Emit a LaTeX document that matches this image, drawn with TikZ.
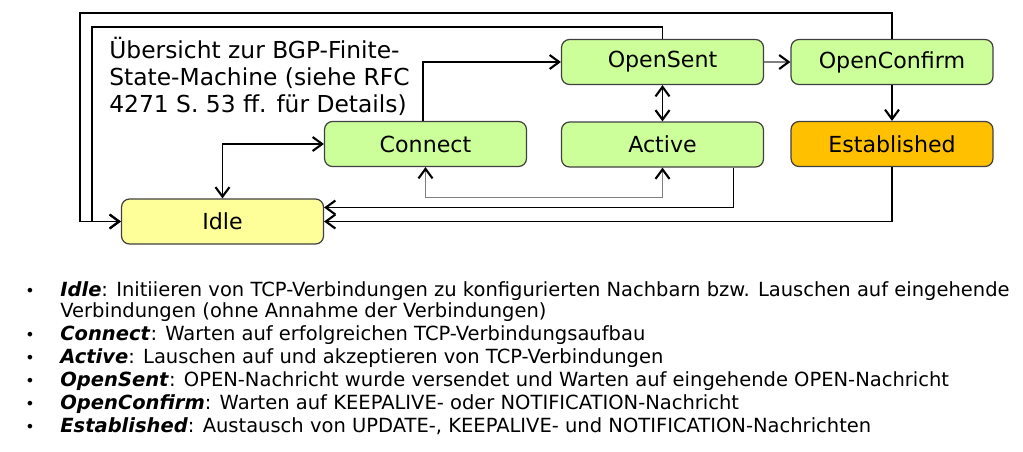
\documentclass[tikz,border=0pt]{standalone}
\usepackage{fontspec}
\setmainfont{DejaVu Sans}
\usetikzlibrary{arrows.meta,positioning}
\definecolor{stategreen}{HTML}{CCFF99}
\definecolor{stateyellow}{HTML}{FFFF99}
\definecolor{stateorange}{HTML}{FFC000}
\definecolor{stateedge}{HTML}{404040}
\definecolor{linegray}{HTML}{7F7F7F}

\begin{document}
\begin{tikzpicture}[x=0.02cm,y=-0.02cm,
  >={Straight Barb[length=1.9mm,width=2.8mm,line width=1.2pt,color=black]}]

    \tikzset{
      state/.style={
        draw=stateedge,
        line width=0.7pt,
        rounded corners=0.16cm,
        fill=stategreen,
        minimum width=4.04cm,
        minimum height=0.9cm,
        inner sep=0pt,
        font=\fontsize{12.6}{15}\selectfont,
      },
      conn/.style={line width=0.6pt},
      item/.style={anchor=base west, inner sep=0pt, font=\fontsize{11.1}{13}\selectfont},
      dot/.style={anchor=base, inner sep=0pt, font=\fontsize{9}{9}\selectfont},
    }
    \useasboundingbox (0,0) rectangle (1023,451);

    % states
    \node[state, fill=stateyellow] (idle) at (222.5,221.5) {Idle};
    \node[state] (connect) at (425.5,144) {Connect};
    \node[state] (active) at (662.5,144.5) {Active};
    \node[state] (opensent) at (662.5,62) {OpenSent};
    \node[state] (openconfirm) at (892,62) {OpenConfirm};
    \node[state, fill=stateorange] (established) at (892,144) {Established};

    \node[anchor=north west, inner sep=0pt, align=left, font=\fontsize{13.3}{15.4}\selectfont] (title) at (109,37)
      {Übersicht zur BGP-Finite-\\State-Machine (siehe RFC\\4271 S. 53 ff. für Details)};

    % transitions
    \coordinate (inner) at (92,27);
    \coordinate (outer) at (80,13);
    \draw[conn,->] (opensent.north) |- (inner) |- (idle.west);
    \draw[conn,->] (openconfirm.north) |- (outer) |- (idle.west);
    \draw[conn,->] (established.south) |- (idle.east);
    \draw[conn,->] ([xshift=-0.62cm]active.south east) |- ([yshift=0.28cm]idle.east);
    \draw[conn,<->] (idle.north) |- (connect.west);
    \draw[conn,->] ([xshift=-0.05cm]connect.north) |- (opensent.west);
    \draw[conn,<->,draw=linegray] (connect.south) -- ++(0,30) -| (active.south);
    \draw[conn,<->] (opensent.south) -- (active.north);
    \draw[conn,->,draw=linegray] (opensent.east) -- (openconfirm.west);
    \draw[conn,->] (openconfirm.south) -- (established.north);

    % legend
    \foreach \y/\n in {296/1,340/2,363/3,386/4,409/5,432/6}
      \node[dot] (b\n) at (30,\y) {•};
    \node[item] (t1) at (60,296) {\textbf{\textit{Idle}}: Initiieren von TCP-Verbindungen zu konfigurierten Nachbarn bzw. Lauschen auf eingehende};
    \node[item] (t1b) at (60,317) {Verbindungen (ohne Annahme der Verbindungen)};
    \node[item] (t2) at (60,340) {\textbf{\textit{Connect}}: Warten auf erfolgreichen TCP-Verbindungsaufbau};
    \node[item] (t3) at (60,363) {\textbf{\textit{Active}}: Lauschen auf und akzeptieren von TCP-Verbindungen};
    \node[item] (t4) at (60,386) {\textbf{\textit{OpenSent}}: OPEN-Nachricht wurde versendet und Warten auf eingehende OPEN-Nachricht};
    \node[item] (t5) at (60,409) {\textbf{\textit{OpenConfirm}}: Warten auf KEEPALIVE- oder NOTIFICATION-Nachricht};
    \node[item] (t6) at (60,432) {\textbf{\textit{Established}}: Austausch von UPDATE-, KEEPALIVE- und NOTIFICATION-Nachrichten};

\end{tikzpicture}
\end{document}
